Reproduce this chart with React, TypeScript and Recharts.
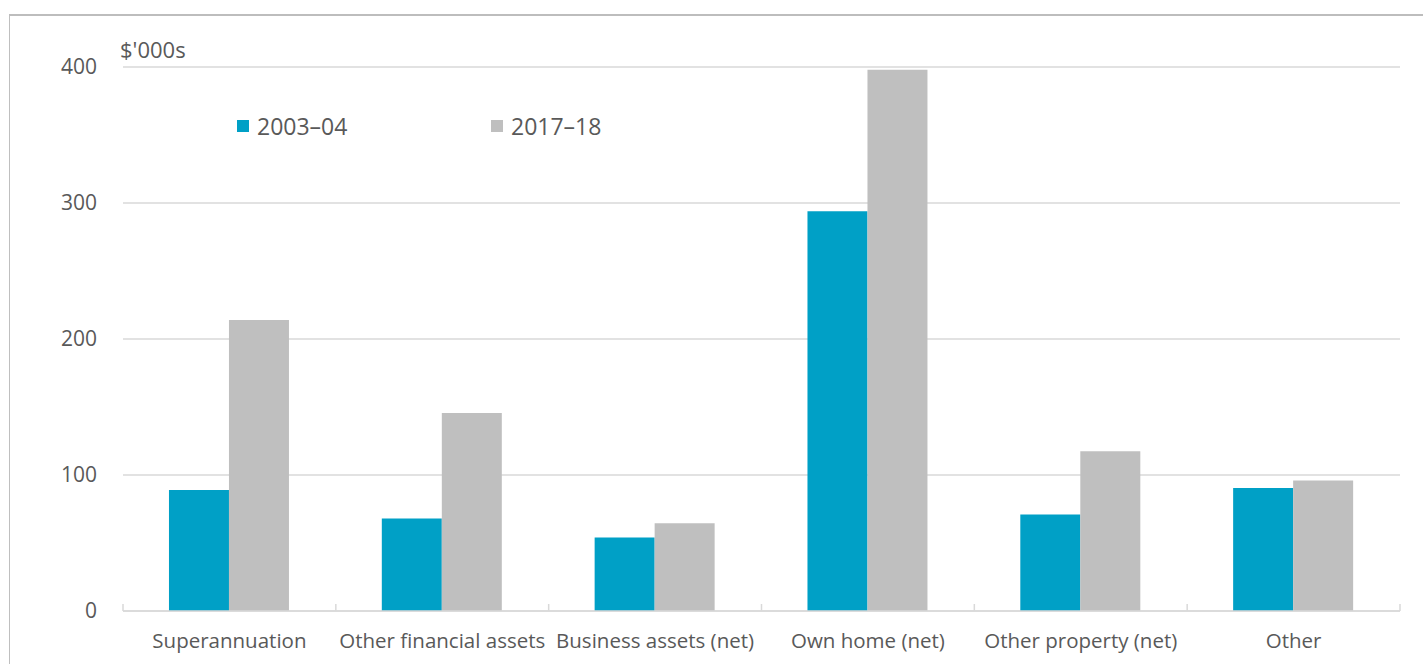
import React from "react";
import { BarChart, Bar, XAxis, YAxis, CartesianGrid } from "recharts";

const categories = [
  "Superannuation",
  "Other financial assets",
  "Business assets (net)",
  "Own home (net)",
  "Other property (net)",
  "Other",
];
const values2003 = [89, 68, 54, 294, 71, 90.5];
const values2017 = [214, 145.5, 64.5, 398, 117.5, 96];
const yTicks = [0, 100, 200, 300, 400];
const seriesNames = ["2003\u201304", "2017\u201318"];
const colors = ["#00A0C6", "#BFBFBF"];

const data = categories.map((c, i) => ({ name: c, a: values2003[i], b: values2017[i] }));

const FONT = "'Open Sans', sans-serif";
const TEXT = "#595959";

const XTick = (props: any) => {
  const { x, y, payload, index, visibleTicksCount } = props;
  const off = payload && payload.offset ? payload.offset : 0;
  const n = visibleTicksCount ?? categories.length;
  return (
    <g>
      <line x1={x - off} x2={x - off} y1={y - 7} y2={y} stroke="#D9D9D9" strokeWidth={1.5} />
      {index === n - 1 && (
        <line x1={x + off} x2={x + off} y1={y - 7} y2={y} stroke="#D9D9D9" strokeWidth={1.5} />
      )}
      <text x={x} y={y + 37} textAnchor="middle" fill={TEXT} fontSize={20.5} fontFamily={FONT}>
        {payload.value}
      </text>
    </g>
  );
};

const LegendBox = () => (
  <div style={{ position: "absolute", left: 237, top: 111, width: 500, height: 30 }}>
    {seriesNames.map((s, i) => (
      <div
        key={s}
        style={{
          position: "absolute",
          left: i * 254,
          top: 0,
          display: "flex",
          alignItems: "center",
          fontFamily: FONT,
          fontSize: 23,
          color: TEXT,
          lineHeight: "30px",
          whiteSpace: "nowrap",
        }}
      >
        <span style={{ display: "inline-block", width: 12, height: 12, background: colors[i], marginRight: 8 }} />
        {s}
      </div>
    ))}
  </div>
);

const UnitLabel = (props: any) => {
  const { viewBox } = props;
  return (
    <text x={viewBox.x + viewBox.width - 3} y={58} fill={TEXT} fontSize={22} fontFamily={FONT}>
      $'000s
    </text>
  );
};

export default function App() {
  return (
    <div style={{ position: "absolute", left: 0, top: 0, width: 1423, height: 664, background: "#fff", overflow: "hidden" }}>
      <div
        style={{
          position: "absolute",
          left: 9,
          top: 14,
          width: 1500,
          height: 800,
          borderLeft: "1px solid #BFBFBF",
          borderTop: "2px solid #BDBDBD",
        }}
      />
      <div style={{ position: "absolute", left: 0, top: 0 }}>
        <BarChart
          width={1423}
          height={664}
          data={data}
          margin={{ top: 67, right: 23, bottom: 0, left: 0 }}
          barCategoryGap="21.6%"
          barGap={0}
        >
          <CartesianGrid vertical={false} stroke="#D9D9D9" strokeWidth={1.5} />
          <XAxis
            dataKey="name"
            height={53}
            axisLine={{ stroke: "#D9D9D9", strokeWidth: 1.5 }}
            tickLine={false}
            tickSize={0}
            tickMargin={0}
            interval={0}
            tick={<XTick />}
          />
          <YAxis
            width={123}
            domain={[0, 400]}
            ticks={yTicks}
            axisLine={false}
            tickLine={false}
            tickSize={6}
            tickMargin={20}
            tick={{ fill: TEXT, fontSize: 21, fontFamily: FONT }}
            label={<UnitLabel />}
          />
          <Bar dataKey="a" name={seriesNames[0]} fill={colors[0]} isAnimationActive={false} />
          <Bar dataKey="b" name={seriesNames[1]} fill={colors[1]} isAnimationActive={false} />
        </BarChart>
      </div>
      <LegendBox />
    </div>
  );
}
